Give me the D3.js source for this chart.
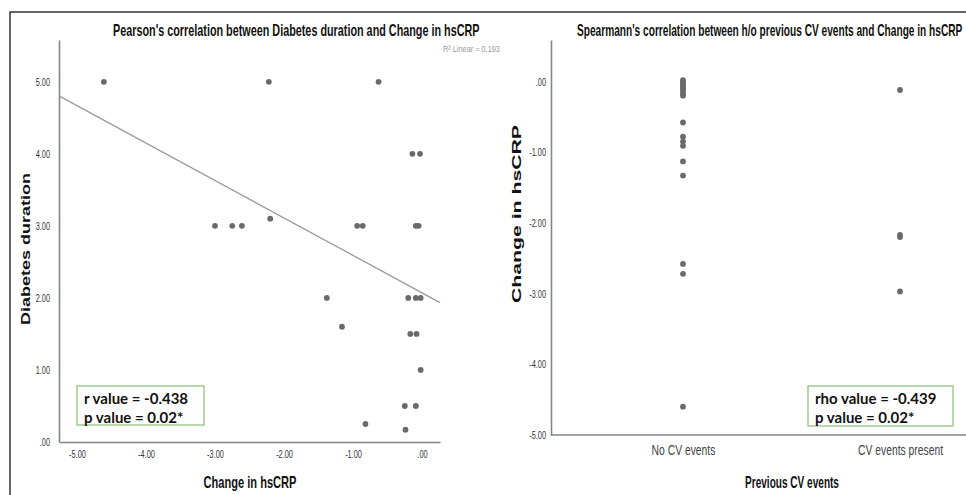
<!DOCTYPE html>
<html><head><meta charset="utf-8">
<script src="https://cdn.jsdelivr.net/npm/d3@7/dist/d3.min.js"></script>
<style>
body{margin:0;background:#fff;}
svg{display:block;}
text{font-family:"Liberation Sans",Arial,sans-serif;}
.box{font-family:Lato,"Open Sans",sans-serif;font-weight:700;}
</style></head><body>
<svg id="c" width="966" height="495"></svg>
<script>
// ---- Data: left panel (Pearson) ----
const leftChange   = [-4.61,-2.22,-0.63,-0.14,-0.03,-3.00,-2.75,-2.61,-2.20,-0.94,-0.86,-0.09,-0.05,-1.38,-0.20,-0.09,-0.02,-1.16,-0.17,-0.08,-0.02,-0.25,-0.09,-0.82,-0.24];
const leftDuration = [5.0,5.0,5.0,4.0,4.0,3.0,3.0,3.0,3.1,3.0,3.0,3.0,3.0,2.0,2.0,2.0,2.0,1.6,1.5,1.5,1.0,0.5,0.5,0.25,0.17];
const fitLine = [2.07, -0.52]; // intercept, slope of linear fit
const leftXTicks = [-5,-4,-3,-2,-1,0];
const leftYTicks = [0,1,2,3,4,5];
// ---- Data: right panel (Spearman) ----
const categories = ["No CV events","CV events present"];
const noCVChange  = [0.02,-0.01,-0.04,-0.07,-0.10,-0.13,-0.17,-0.20,-0.58,-0.78,-0.85,-0.91,-1.13,-1.33,-2.58,-2.72,-4.60];
const cvChange    = [-0.12,-2.17,-2.20,-2.97];
const rightYTicks = [0,-1,-2,-3,-4,-5];

const fmt = d => d === 0 ? ".00" : d3.format(".2f")(d).replace("−","-").replace(/^(-?)0\./,"$1.");
const svg = d3.select("#c");
const axisCol = "#858585", dotCol = "#6a6a6a", txtCol = "#333";

// condensed text: draws text at (x,y) scaled horizontally to a target width
function condText(parent, x, y, str, size, weight, target, anchor, fill){
  const g = parent.append("g");
  const t = g.append("text").attr("font-size",size).attr("font-weight",weight)
    .attr("fill",fill).attr("text-anchor",anchor).text(str);
  const w = t.node().getComputedTextLength();
  g.attr("transform",`translate(${x},${y}) scale(${target/w},1)`);
  return g;
}
// condense axis tick labels by a factor, keeping anchor point
function squeezeTicks(axisG, f, dx){
  axisG.selectAll(".tick text").each(function(){
    const t = d3.select(this);
    const x = +t.attr("x") || 0;
    t.attr("x", (dx!==undefined ? dx : x)/f).attr("transform",`scale(${f},1)`);
  });
}

// outer frame
svg.append("path").attr("d","M10,495 V12 H966").attr("fill","none").attr("stroke","#333").attr("stroke-width",1.5);

// ================= LEFT =================
const xL = d3.scaleLinear().domain([-5.26,0.26]).range([59,440]);
const yL = d3.scaleLinear().domain([0,5.58]).range([442,40]);
const gL = svg.append("g");

condText(gL,113,36,"Pearson's correlation between Diabetes duration and Change in hsCRP",16,700,367,"start","#111");
condText(gL,443,52,"R² Linear = 0.193",9,400,57,"start","#999");

const axXL = gL.append("g").attr("transform","translate(0,442)")
  .call(d3.axisBottom(xL).tickValues(leftXTicks).tickFormat(fmt).tickSize(0).tickPadding(8));
const axYL = gL.append("g").attr("transform","translate(59,0)")
  .call(d3.axisLeft(yL).tickValues(leftYTicks).tickFormat(fmt).tickSize(0).tickPadding(9));
[axXL,axYL].forEach(a=>{a.select(".domain").attr("stroke",axisCol).attr("stroke-width",1.6);
  a.selectAll("text").attr("font-size",11.5).attr("fill",txtCol).attr("font-family",null);});
squeezeTicks(axXL,0.64);
squeezeTicks(axYL,0.64,-9);

// fit line
const [x0,x1] = xL.domain();
gL.append("line").attr("x1",xL(x0)).attr("y1",yL(fitLine[0]+fitLine[1]*x0))
  .attr("x2",xL(x1)).attr("y2",yL(fitLine[0]+fitLine[1]*x1))
  .attr("stroke","#9a9a9a").attr("stroke-width",1.3);

gL.selectAll("circle.d").data(leftChange).join("circle").attr("class","d")
  .attr("cx",d=>xL(d)).attr("cy",(d,i)=>yL(leftDuration[i])).attr("r",2.9).attr("fill",dotCol);

gL.append("text").attr("transform","translate(30,249) scale(0.78,1) rotate(-90)").attr("text-anchor","middle")
  .attr("font-weight",700).attr("font-size",17).attr("textLength",152).attr("lengthAdjust","spacingAndGlyphs")
  .attr("fill","#111").text("Diabetes duration");
condText(gL,250,488,"Change in hsCRP",16.5,700,93,"middle","#111");

// stats box left
gL.append("rect").attr("x",77).attr("y",386).attr("width",127).attr("height",39)
  .attr("fill","#fff").attr("stroke","#93c47d").attr("stroke-width",1.3);
gL.append("text").attr("class","box").attr("x",84).attr("y",404).attr("font-size",15).attr("fill","#111").text("r value = -0.438");
gL.append("text").attr("class","box").attr("x",84).attr("y",423).attr("font-size",15).attr("fill","#111").text("p value = 0.02*");

// ================= RIGHT =================
const yR = d3.scaleLinear().domain([-5,0.587]).range([435,40]);
const xR = d3.scalePoint().domain(categories).range([683,900]);
const gR = svg.append("g");

condText(gR,577,36,"Spearmann's correlation between h/o previous CV events and  Change in hsCRP",16,700,386,"start","#111");

const axYR = gR.append("g").attr("transform","translate(551,0)")
  .call(d3.axisLeft(yR).tickValues(rightYTicks).tickFormat(fmt).tickSize(0).tickPadding(5));
axYR.select(".domain").attr("stroke",axisCol).attr("stroke-width",1.6);
axYR.selectAll("text").attr("font-size",11.5).attr("fill",txtCol).attr("font-family",null);
squeezeTicks(axYR,0.64,-5);

const axXR = gR.append("g").attr("transform","translate(0,435)")
  .call(d3.axisBottom(xR).tickSize(0).tickPadding(9));
axXR.select(".domain").remove();
axXR.selectAll("text").attr("font-size",15).attr("fill","#444").attr("font-family",null);
squeezeTicks(axXR,0.69);
gR.append("line").attr("x1",551).attr("x2",966).attr("y1",435).attr("y2",435).attr("stroke",axisCol).attr("stroke-width",1.6);

const ptsR = noCVChange.map(v=>({c:categories[0],v})).concat(cvChange.map(v=>({c:categories[1],v})));
gR.selectAll("circle.d").data(ptsR).join("circle").attr("class","d")
  .attr("cx",d=>xR(d.c)).attr("cy",d=>yR(d.v)).attr("r",2.9).attr("fill",dotCol);

gR.append("text").attr("transform","translate(521,214) scale(0.78,1) rotate(-90)").attr("text-anchor","middle")
  .attr("font-weight",700).attr("font-size",17).attr("textLength",178).attr("lengthAdjust","spacingAndGlyphs")
  .attr("fill","#111").text("Change in hsCRP");
condText(gR,792,488,"Previous CV events",16.5,700,94,"middle","#111");

gR.append("rect").attr("x",808).attr("y",386).attr("width",145).attr("height",40)
  .attr("fill","#fff").attr("stroke","#93c47d").attr("stroke-width",1.3);
gR.append("text").attr("class","box").attr("x",815).attr("y",404).attr("font-size",15).attr("fill","#111").text("rho value = -0.439");
gR.append("text").attr("class","box").attr("x",815).attr("y",423).attr("font-size",15).attr("fill","#111").text("p value = 0.02*");
</script></body></html>
